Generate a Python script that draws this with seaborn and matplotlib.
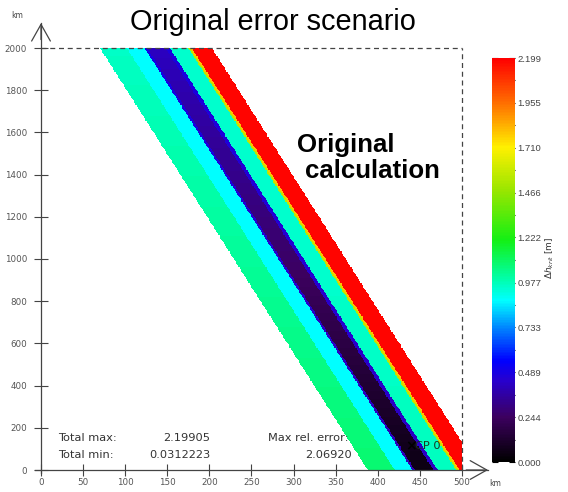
import numpy as np
import matplotlib
matplotlib.use("Agg")
import matplotlib.pyplot as plt
import seaborn as sns
from matplotlib.colors import LinearSegmentedColormap
from matplotlib.ticker import FixedLocator

# ---------------- data ----------------
x_ticks_km = [0, 50, 100, 150, 200, 250, 300, 350, 400, 450, 500]
y_ticks_km = [0, 200, 400, 600, 800, 1000, 1200, 1400, 1600, 1800, 2000]
cbar_ticks = [0.000, 0.244, 0.489, 0.733, 0.977, 1.222, 1.466, 1.710, 1.955, 2.199]
total_max = 2.19905
total_min = 0.0312223
max_rel_error = 2.06920

domain_x_km = 500
domain_y_km = 2000
band_start_top_km = 70      # left edge of the band at y = 2000 km
band_drift_km = 318         # eastward shift of the band from top to bottom
band_edges = [0, 32, 53, 56, 78, 83, 105, 107, 109, 133]   # offsets inside the band (km)
level_heights_km = [0, 1000, 2000]
band_vals_bottom = [1.08, 0.88, 0.40, 0.05, 0.42, 0.97, 1.55, 1.80, 2.19]
band_vals_mid    = [1.02, 0.88, 0.45, 0.26, 0.45, 0.95, 1.55, 1.80, 2.19]
band_vals_top    = [0.96, 0.88, 0.50, 0.42, 0.48, 0.95, 1.55, 1.80, 2.19]

# ---------------- field on a grid (1 km x 4 km cells) ----------------
dx_km, dy_km = 1, 4
nx, ny = domain_x_km // dx_km, domain_y_km // dy_km
x_c = (np.arange(nx) + 0.5) * dx_km
y_c = (np.arange(ny) + 0.5) * dy_km
XX, YY = np.meshgrid(x_c, y_c)
offset = XX - band_start_top_km - band_drift_km * (domain_y_km - YY) / domain_y_km
inside = (offset >= 0) & (offset < band_edges[-1])
nb = len(band_vals_top)
k = np.clip(np.searchsorted(band_edges, offset, side="right") - 1, 0, nb - 1)
levels = np.array([band_vals_bottom, band_vals_mid, band_vals_top])
row_vals = np.array([[np.interp(y, level_heights_km, levels[:, b]) for b in range(nb)] for y in y_c])
field = np.where(inside, row_vals[np.arange(ny)[:, None], k], np.nan)

# ---------------- colormap ----------------
stops = [
    (0.00, (0, 0, 0)),
    (0.11, (60, 0, 95)),
    (0.20, (40, 0, 205)),
    (0.25, (0, 0, 255)),
    (0.33, (0, 130, 255)),
    (0.40, (0, 255, 255)),
    (0.45, (0, 255, 175)),
    (0.55, (20, 240, 20)),
    (0.67, (150, 230, 0)),
    (0.78, (255, 240, 0)),
    (0.89, (255, 110, 0)),
    (1.00, (255, 0, 0)),
]
cmap = LinearSegmentedColormap.from_list(
    "err", [(p, tuple(c / 255 for c in rgb)) for p, rgb in stops])

# ---------------- figure ----------------
sns.set_theme(style="white")
plt.rcParams["font.family"] = ["DejaVu Sans"]

W, H = 568, 492
fig = plt.figure(figsize=(W / 100, H / 100), dpi=100)

def fx(px):
    return px / W

def fy(py):
    return 1 - py / H

# pixel mapping of the reference axes
X0, PXK = 41, 0.842   # px of x=0, px per km
Y0, PYK = 470, 0.211  # px of y=0, px per km
ax_l, ax_r, ax_t, ax_b = 30, 492, 12, 482
ax = fig.add_axes([fx(ax_l), fy(ax_b), (ax_r - ax_l) / W, (ax_b - ax_t) / H])
cb_t, cb_b, cb_l, cb_w = 58, 462, 492, 23
cax = fig.add_axes([fx(cb_l), fy(cb_b), cb_w / W, (cb_b - cb_t) / H])

sns.heatmap(field, ax=ax, cbar_ax=cax, cmap=cmap, vmin=0, vmax=total_max,
            mask=np.isnan(field), xticklabels=False, yticklabels=False)

def Y(km):
    return km / dy_km

ax.set_xlim((ax_l - X0) / PXK, (ax_r - X0) / PXK)
ax.set_ylim(Y((Y0 - ax_b) / PYK), Y((Y0 - ax_t) / PYK))

axis_col = "#444444"
ax.set_xticks([v / dx_km for v in x_ticks_km])
ax.set_xticklabels([str(v) for v in x_ticks_km], rotation=0)
ax.set_yticks([Y(v) for v in y_ticks_km])
ax.set_yticklabels([str(v) for v in y_ticks_km], rotation=0)
ax.tick_params(axis="x", direction="inout", length=8, width=0.8, color=axis_col,
               labelsize=6.3, labelcolor="#555555", pad=2, bottom=True)
ax.tick_params(axis="y", direction="inout", length=10, width=0.8, color=axis_col,
               labelsize=6.3, labelcolor="#555555", pad=5, left=True)

for s in ["left", "bottom"]:
    ax.spines[s].set_visible(True)
    ax.spines[s].set_color(axis_col)
    ax.spines[s].set_linewidth(0.9)
    ax.spines[s].set_position(("data", 0))
for s in ["top", "right"]:
    ax.spines[s].set_visible(False)
ax.spines["left"].set_bounds(Y(-15), Y(2118))
ax.spines["bottom"].set_bounds(-7, 531)

arrow = dict(arrowstyle="->,head_length=0.8,head_width=0.45", color=axis_col,
             lw=0.9, shrinkA=0, shrinkB=0, mutation_scale=15)
ax.annotate("", xy=(0, Y(2118)), xytext=(0, Y(2040)), arrowprops=arrow)
ax.annotate("", xy=(531, 0), xytext=(505, 0), arrowprops=arrow)

ax.plot([0, domain_x_km], [Y(domain_y_km)] * 2, ls=(0, (4, 3)), color=axis_col, lw=0.9, zorder=5)
ax.plot([domain_x_km] * 2, [0, Y(domain_y_km)], ls=(0, (4, 3)), color=axis_col, lw=0.9, zorder=5)

# colorbar
cb = ax.collections[0].colorbar
cb.outline.set_visible(False)
cb.set_ticks(cbar_ticks)
cb.set_ticklabels([f"{v:.3f}" for v in cbar_ticks])
cax.yaxis.set_minor_locator(FixedLocator(
    [(a + b) / 2 for a, b in zip(cbar_ticks[:-1], cbar_ticks[1:])]))
cax.tick_params(which="both", direction="in", left=True, right=True, color="black", width=0.8)
cax.tick_params(which="major", length=4, labelsize=6.8, labelcolor="#444444", pad=2)
cax.tick_params(which="minor", length=3)
for lab in cax.get_yticklabels():
    lab.set_family("Liberation Sans")
fig.text(fx(550), fy(258), r"$\Delta h_{krit}$ [m]", rotation=90, ha="center",
         va="center", fontsize=6.5, color="#333333")

# texts
fig.text(fx(130), fy(30), "Original error scenario", fontsize=20.8,
         family="Liberation Sans", va="baseline", color="black")
fig.text(fx(297), fy(152), "Original", fontsize=18.6, weight="bold",
         family="Liberation Sans", va="baseline", color="black")
fig.text(fx(305), fy(178), "calculation", fontsize=18.6, weight="bold",
         family="Liberation Sans", va="baseline", color="black")

fig.text(fx(17), fy(16), "km", ha="center", va="center", fontsize=5.5, color=axis_col)
fig.text(fx(495), fy(484), "km", ha="center", va="center", fontsize=5.5, color=axis_col)

tcol = "#333333"
tfs = 8.2
fig.text(fx(58), fy(441), "Total max:", fontsize=tfs, color=tcol, va="baseline")
fig.text(fx(58), fy(458), "Total min:", fontsize=tfs, color=tcol, va="baseline")
fig.text(fx(210), fy(441), f"{total_max:.5f}", fontsize=tfs, color=tcol, va="baseline", ha="right")
fig.text(fx(210), fy(458), f"{total_min:.7f}", fontsize=tfs, color=tcol, va="baseline", ha="right")
fig.text(fx(268), fy(441), "Max rel. error:", fontsize=tfs, color=tcol, va="baseline")
fig.text(fx(352), fy(458), f"{max_rel_error:.5f}", fontsize=tfs, color=tcol, va="baseline", ha="right")
fig.text(fx(405), fy(450), "×", fontsize=10, weight="bold", color="black", va="baseline")
fig.text(fx(415), fy(449), "CP 0", fontsize=tfs, color="#1c3320", va="baseline")

fig.savefig("out.png", dpi=100)
